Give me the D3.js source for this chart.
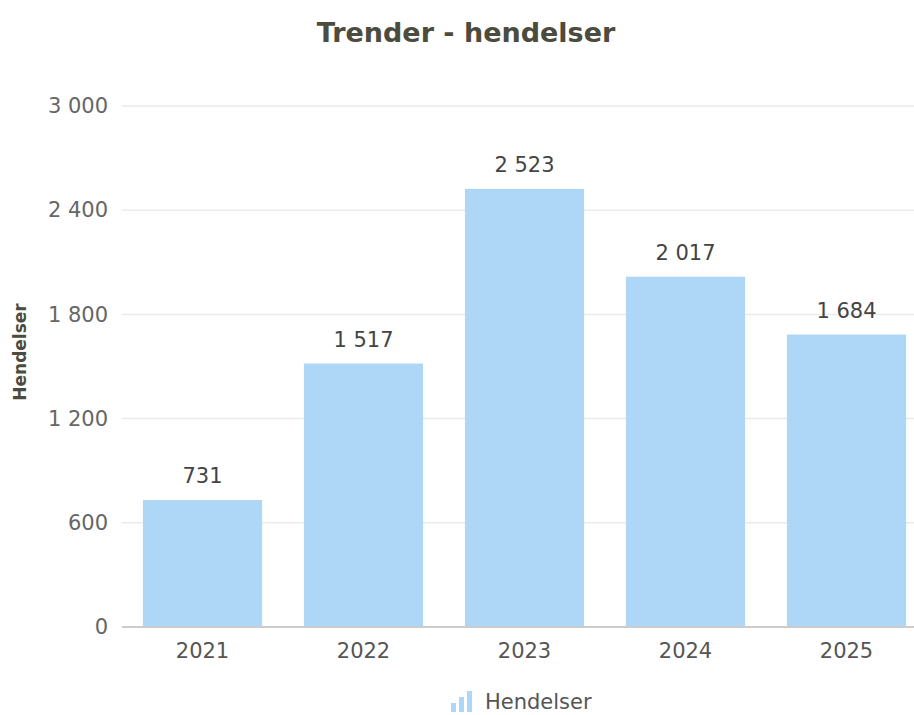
<!DOCTYPE html>
<html>
<head>
<meta charset="utf-8">
<script src="https://cdn.jsdelivr.net/npm/d3@7"></script>
<style>
  body { margin: 0; background: #fff; }
  svg { display: block; font-family: "DejaVu Sans", Verdana, sans-serif; }
</style>
</head>
<body>
<script>
const width = 914;
const height = 715;

const years = ["2021", "2022", "2023", "2024", "2025"];
const hendelser = [731, 1517, 2523, 2017, 1684];
const yTicks = [0, 600, 1200, 1800, 2400, 3000];

const margin = { top: 106, left: 122, bottom: 88 };

const svg = d3.select("body").append("svg")
    .attr("width", width)
    .attr("height", height);

const x = d3.scaleBand()
    .domain(years)
    .range([margin.left, margin.left + 805])
    .paddingInner(0.26)
    .paddingOuter(0.13);

const y = d3.scaleLinear()
    .domain([0, 3000])
    .range([height - margin.bottom, margin.top]);

const fmt = v => d3.format(",")(v).replace(/,/g, " ");

// title
svg.append("text")
    .attr("x", 466)
    .attr("y", 42)
    .attr("text-anchor", "middle")
    .attr("font-size", 27)
    .attr("font-weight", "bold")
    .attr("fill", "#4b4b3e")
    .text("Trender - hendelser");

// grid
svg.append("g")
    .selectAll("line")
    .data(yTicks.filter(d => d > 0))
    .join("line")
    .attr("x1", margin.left)
    .attr("x2", width)
    .attr("y1", d => y(d))
    .attr("y2", d => y(d))
    .attr("stroke", "#ebebeb")
    .attr("stroke-width", 1.5);

// y axis
const yAxis = svg.append("g")
    .attr("transform", `translate(${margin.left},0)`)
    .call(d3.axisLeft(y).tickValues(yTicks).tickFormat(fmt).tickSize(0).tickPadding(14));
yAxis.select(".domain").remove();
yAxis.selectAll("text")
    .attr("font-size", 21)
    .attr("font-family", "DejaVu Sans, Verdana, sans-serif")
    .attr("fill", "#666");

// bars
svg.append("g")
    .selectAll("rect")
    .data(years)
    .join("rect")
    .attr("x", d => x(d))
    .attr("width", x.bandwidth())
    .attr("y", (d, i) => y(hendelser[i]))
    .attr("height", (d, i) => y(0) - y(hendelser[i]))
    .attr("fill", "#aed6f7");

// value labels
svg.append("g")
    .selectAll("text")
    .data(years)
    .join("text")
    .attr("x", d => x(d) + x.bandwidth() / 2)
    .attr("y", (d, i) => y(hendelser[i]) - 17)
    .attr("text-anchor", "middle")
    .attr("font-size", 21)
    .attr("fill", "#444")
    .text((d, i) => fmt(hendelser[i]));

// x axis
const xAxis = svg.append("g")
    .attr("transform", `translate(0,${y(0)})`)
    .call(d3.axisBottom(x).tickSize(0).tickPadding(16));
xAxis.select(".domain")
    .attr("d", `M${margin.left},0H${width}`)
    .attr("stroke", "#ccc")
    .attr("stroke-width", 2);
xAxis.selectAll("text")
    .attr("font-size", 21)
    .attr("font-family", "DejaVu Sans, Verdana, sans-serif")
    .attr("fill", "#555");

// y axis title
svg.append("text")
    .attr("transform", "translate(26,352) rotate(-90)")
    .attr("text-anchor", "middle")
    .attr("font-size", 17)
    .attr("font-weight", "bold")
    .attr("fill", "#4b4b3e")
    .text("Hendelser");

// legend
const legend = svg.append("g").attr("transform", "translate(451,712)");
const iconBars = [9, 15, 21];
legend.selectAll("rect")
    .data(iconBars)
    .join("rect")
    .attr("x", (d, i) => i * 8)
    .attr("y", d => -d)
    .attr("width", 5)
    .attr("height", d => d)
    .attr("fill", "#aed6f7");
legend.append("text")
    .attr("x", 34)
    .attr("y", -3)
    .attr("font-size", 21)
    .attr("fill", "#555")
    .text("Hendelser");
</script>
</body>
</html>
